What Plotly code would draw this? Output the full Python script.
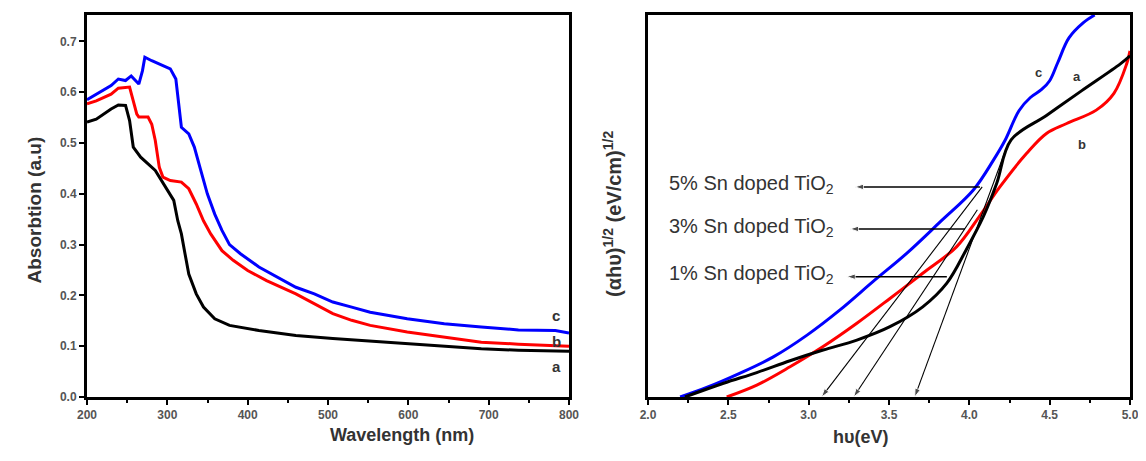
import plotly.graph_objects as go

# ---------------- Left panel: absorption spectra ----------------
wl_c = [200, 211.5, 230, 239, 248, 255, 260, 264.5, 269, 272, 280.6, 294.5, 303.7, 310.6, 313, 317.5,
        326.7, 333.6, 340.6, 349.8, 359, 368, 377.4, 391, 414, 437, 460, 483, 506, 529.5, 552.5,
        598.6, 644.7, 690.8, 737, 783, 800]
abs_c = [0.585, 0.596, 0.613, 0.626, 0.623, 0.632, 0.623, 0.616, 0.642, 0.669, 0.662, 0.652, 0.646, 0.626,
         0.596, 0.531, 0.518, 0.492, 0.452, 0.400, 0.360, 0.328, 0.300, 0.282, 0.256, 0.236, 0.216, 0.203,
         0.187, 0.177, 0.167, 0.154, 0.144, 0.138, 0.132, 0.131, 0.126]

wl_b = [200, 211.5, 230, 239, 253, 257.6, 262, 264.5, 276, 280.6, 285, 290, 294.5, 303.7, 317.5, 326.7,
        336, 345, 354, 368, 382, 400, 423.5, 460, 483, 506, 529.5, 552.5, 598.6, 644.7, 690.8, 737, 800]
abs_b = [0.577, 0.583, 0.596, 0.608, 0.610, 0.583, 0.557, 0.551, 0.551, 0.537, 0.505, 0.452, 0.433, 0.426,
         0.423, 0.410, 0.380, 0.347, 0.321, 0.288, 0.269, 0.249, 0.229, 0.203, 0.184, 0.164, 0.151, 0.141,
         0.128, 0.118, 0.108, 0.104, 0.100]

wl_a = [200, 211.5, 230, 239, 248, 253, 257.6, 266.8, 285, 299, 308, 313, 317.5, 322, 326.7, 336, 345,
        359, 377.4, 414, 460, 506, 552.5, 598.6, 644.7, 690.8, 737, 800]
abs_a = [0.541, 0.547, 0.567, 0.575, 0.574, 0.544, 0.492, 0.472, 0.446, 0.410, 0.387, 0.347, 0.321, 0.282,
         0.242, 0.203, 0.177, 0.154, 0.141, 0.131, 0.121, 0.115, 0.110, 0.105, 0.100, 0.095, 0.092, 0.090]

# ---------------- Right panel: Tauc plots (arbitrary units) ----------------
ev_c = [2.20, 2.365, 2.57, 2.78, 2.99, 3.195, 3.40, 3.61, 3.82, 4.025, 4.15, 4.22, 4.31, 4.38, 4.45,
        4.50, 4.55, 4.62, 4.71, 4.78]
tauc_c = [0.0, 0.25, 0.62, 1.05, 1.62, 2.28, 3.02, 3.76, 4.59, 5.42, 6.2, 6.7, 7.5, 7.84, 8.05,
          8.28, 8.75, 9.4, 9.8, 10.0]

ev_b = [2.49, 2.677, 2.884, 3.09, 3.30, 3.506, 3.71, 3.92, 4.066, 4.19, 4.357, 4.48, 4.606, 4.79,
        4.90, 4.98, 5.0]
tauc_b = [0.0, 0.31, 0.79, 1.32, 1.93, 2.58, 3.24, 3.93, 4.75, 5.5, 6.38, 6.9, 7.16, 7.51,
          7.95, 8.73, 9.06]

ev_a = [2.23, 2.47, 2.677, 2.884, 3.09, 3.30, 3.506, 3.71, 3.86, 3.98, 4.087, 4.17, 4.26, 4.48,
        4.70, 4.94, 5.0]
tauc_a = [0.0, 0.36, 0.64, 0.95, 1.23, 1.49, 1.84, 2.36, 2.98, 3.85, 4.72, 5.59, 6.73, 7.37,
          8.02, 8.72, 8.93]

# extrapolation lines (upper end -> x-intercept)
tangent_x0 = [3.08, 3.28, 3.66]
tangent_x1 = [4.08, 4.05, 4.22]
tangent_y1 = [5.5, 4.9, 6.4]

# labels with arrows
label_text = ["5% Sn doped TiO<sub>2</sub>", "3% Sn doped TiO<sub>2</sub>", "1% Sn doped TiO<sub>2</sub>"]
label_y = [5.5, 4.40, 3.15]
arrow_x0 = [3.288, 3.257, 3.237]
arrow_x1 = [4.066, 3.973, 3.86]

fig = go.Figure()

lw = 3
fig.add_trace(go.Scatter(x=wl_c, y=abs_c, mode="lines", line=dict(color="#0000FF", width=lw),
                         xaxis="x", yaxis="y", showlegend=False))
fig.add_trace(go.Scatter(x=wl_b, y=abs_b, mode="lines", line=dict(color="#FF0000", width=lw),
                         xaxis="x", yaxis="y", showlegend=False))
fig.add_trace(go.Scatter(x=wl_a, y=abs_a, mode="lines", line=dict(color="#000000", width=lw),
                         xaxis="x", yaxis="y", showlegend=False))

fig.add_trace(go.Scatter(x=ev_c, y=tauc_c, mode="lines", line=dict(color="#0000FF", width=lw, shape="spline"),
                         xaxis="x2", yaxis="y2", showlegend=False))
fig.add_trace(go.Scatter(x=ev_b, y=tauc_b, mode="lines", line=dict(color="#FF0000", width=lw, shape="spline"),
                         xaxis="x2", yaxis="y2", showlegend=False))
fig.add_trace(go.Scatter(x=ev_a, y=tauc_a, mode="lines", line=dict(color="#000000", width=lw, shape="spline"),
                         xaxis="x2", yaxis="y2", showlegend=False))

# horizontal arrows (drawn right -> left, arrowhead at left end)
for yv, x0, x1 in zip(label_y, arrow_x0, arrow_x1):
    fig.add_trace(go.Scatter(x=[x1, x0], y=[yv, yv], mode="lines+markers",
                             line=dict(color="black", width=1.5),
                             marker=dict(symbol="arrow", angleref="previous", size=[0, 9], color="black"),
                             xaxis="x2", yaxis="y2", showlegend=False, hoverinfo="skip"))

# tangent extrapolation arrows (drawn top -> x-intercept)
for x0, x1, y1 in zip(tangent_x0, tangent_x1, tangent_y1):
    fig.add_trace(go.Scatter(x=[x1, x0], y=[y1, 0.0], mode="lines+markers",
                             line=dict(color="black", width=1.1),
                             marker=dict(symbol="arrow", angleref="previous", size=[0, 9], color="black"),
                             xaxis="x2", yaxis="y2", showlegend=False, hoverinfo="skip"))

# page has an 8px body margin: figure is 1138x453 drawn at offset (8, 8)
OFF = 8.0
W = 1146.0 - OFF
H = 461.0 - OFF


def px(sx):
    return (sx - OFF) / W


def py(sy):
    return (461.0 - sy) / H


ydom = [py(397), py(15)]

axis_common = dict(showline=True, linecolor="black", linewidth=3, mirror=True, showgrid=False,
                   zeroline=False, ticks="outside", ticklen=5, tickwidth=2, tickcolor="black",
                   automargin=False,
                   tickfont=dict(family="Liberation Sans, Arial", size=12, color="#555555", weight="bold"))

fig.update_layout(
    width=int(W), height=int(H),
    margin=dict(l=0, r=0, t=0, b=0),
    paper_bgcolor="white", plot_bgcolor="white",
    xaxis=dict(domain=[px(87), px(569)], range=[200, 800], dtick=100, tick0=200,
               minor=dict(ticks="outside", ticklen=3, tickwidth=2, dtick=50, tickcolor="black"),
               anchor="y", **axis_common),
    yaxis=dict(domain=ydom, range=[0, 0.752], dtick=0.1, tick0=0, tickformat=".1f",
               anchor="x", **axis_common),
    xaxis2=dict(domain=[px(648), px(1130)], range=[2.0, 5.0], dtick=0.5, tick0=2.0, tickformat=".1f",
                minor=dict(ticks="outside", ticklen=3, tickwidth=2, dtick=0.25, tickcolor="black"),
                anchor="y2", **axis_common),
    yaxis2=dict(domain=ydom, range=[0, 10], anchor="x2", showline=True, linecolor="black", linewidth=3,
                mirror=True, showgrid=False, zeroline=False, ticks="", showticklabels=False,
                automargin=False),
)

title_font = dict(family="Liberation Sans, Arial", color="#333333", weight="bold")
annotations = [
    dict(text="Absorbtion (a.u)", x=px(22), y=py(210), xref="paper", yref="paper",
         textangle=-90, showarrow=False, font=dict(size=19, **title_font)),
    dict(text="Wavelength (nm)", x=px(328), y=py(447), xref="paper", yref="paper",
         showarrow=False, font=dict(size=18, **title_font)),
    dict(text="hυ(eV)", x=px(890), y=py(449), xref="paper", yref="paper",
         showarrow=False, font=dict(size=18, **title_font)),
    dict(text="(αhυ)<sup>1/2</sup> (eV/cm)<sup>1/2</sup>", x=px(612), y=py(214),
         xref="paper", yref="paper", textangle=-90, showarrow=False, font=dict(size=20, **title_font)),
]

# curve letters, left panel
for t, yv in zip(["c", "b", "a"], [0.161, 0.109, 0.06]):
    annotations.append(dict(text=t, x=784, y=yv, xref="x", yref="y", showarrow=False,
                            font=dict(family="Liberation Sans, Arial", size=15, color="#333333", weight="bold")))
# curve letters, right panel
for t, xv, yv in zip(["c", "a", "b"], [4.43, 4.67, 4.70], [8.5, 8.4, 6.6]):
    annotations.append(dict(text=t, x=xv, y=yv, xref="x2", yref="y2", showarrow=False,
                            font=dict(family="Liberation Sans, Arial", size=13, color="#333333", weight="bold")))

# text labels
for txt, yv in zip(label_text, label_y):
    annotations.append(dict(text=txt, x=3.17, y=yv + 0.05, xref="x2", yref="y2", xanchor="right",
                            yanchor="middle", showarrow=False,
                            font=dict(family="Liberation Sans, Arial", size=20, color="#333333")))

fig.update_layout(annotations=annotations)

fig.write_html("out.html")
